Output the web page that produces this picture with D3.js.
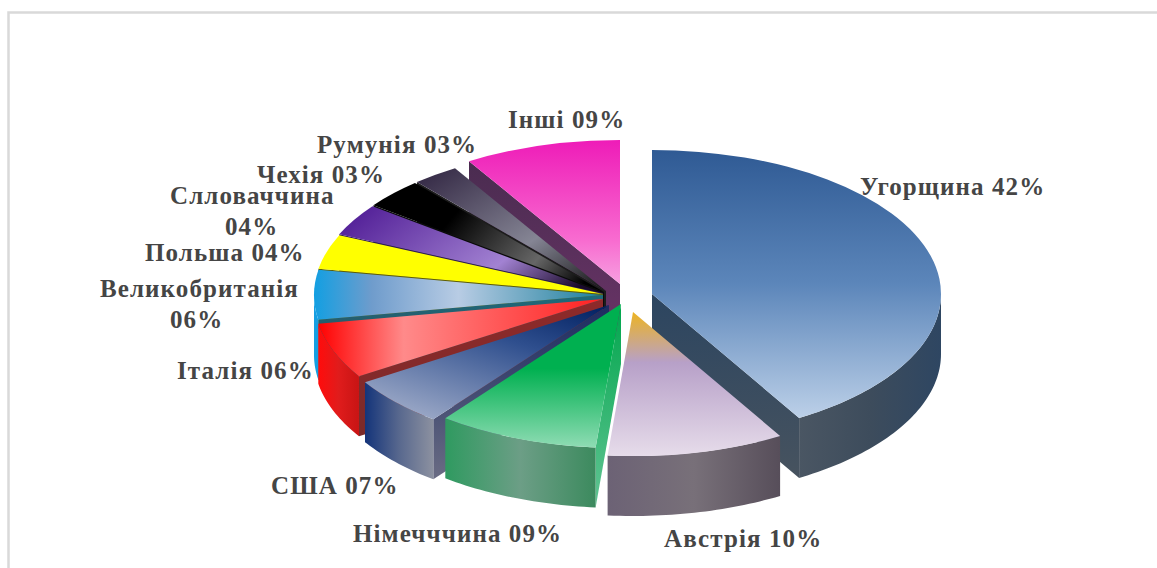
<!DOCTYPE html>
<html>
<head>
<meta charset="utf-8">
<script src="https://cdn.jsdelivr.net/npm/d3@7"></script>
<style>
  html, body { margin: 0; padding: 0; background: #fff; }
  svg { display: block; }
  text { font-family: "Liberation Serif", serif; font-weight: bold; font-size: 25px; letter-spacing: 1.1px; fill: #454545; }
</style>
</head>
<body>
<svg id="chart" width="1157" height="568"></svg>
<script>
// chart values
var countries = ["Угорщина", "Австрія", "Німечччина", "США", "Італія", "Великобританія", "Польша", "Слловаччина", "Чехія", "Румунія", "Інші"];
var percentLabels = ["42%", "10%", "09%", "07%", "06%", "06%", "04%", "04%", "03%", "03%", "09%"];
// slice sizes
var shares = [41.5, 9.9, 9, 5.6, 6.25, 5.55, 3.9, 3.6, 3.35, 2.6, 8.75];

// layout
var width = 1157, height = 568;
var cx = 608, cy = 297, rx = 289, ry = 144, depth = 60;
var explodeX = [44, 25, 13, 1, -5, -5, -5, -5, -4, -2, 12];
var explodeY = [-3, 15, 7, 8, 2, -2, -3, -4, -5, -6, -13];
var drawOrder = [10, 9, 8, 7, 6, 5, 4, 3, 2, 0, 1];
var labelX = [860, 664, 353, 271, 177, 100, 145, 170, 257, 317, 508];
var labelY = [195, 547, 542, 494, 379, 297, 261, 204, 183, 153, 128];
var labelBreak = [false, false, false, false, false, true, false, true, false, false, false];
var breakDx = [0, 0, 0, 0, 0, 70, 0, 55, 0, 0, 0];

// colours: [x1, y1, x2, y2] then stops
var topGrad = [
  [[0, 0, 0, 1], ["#2f5a94", 0], ["#5c86ba", .5], ["#bcd0e8", 1]],
  [[0, 0, 0, 1], ["#edb422", 0], ["#b7a0c8", .35], ["#e6dcea", 1]],
  [[.5, 0, .5, 1], ["#00b050", 0], ["#00b050", .45], ["#8fdcb4", 1]],
  [[1, 0, .3, 1], ["#001f60", 0], ["#2f4f8e", .4], ["#96a4c4", 1]],
  [[0, .5, 1, .5], ["#ff0000", 0], ["#ff8a8a", .3], ["#ff2020", 1]],
  [[0, .5, 1, .5], ["#129fe2", 0], ["#6f9ccc", .2], ["#b8cce4", .5], ["#1b7f9c", 1]],
  [[0, .5, 1, .5], ["#ffff00", 0], ["#ffff00", 1]],
  [[0, .3, 1, .7], ["#56249a", 0], ["#a282d2", .65], ["#1a0a2a", 1]],
  [[0, .3, 1, .7], ["#000000", 0], ["#000000", .3], ["#666666", .75], ["#000000", 1]],
  [[0, 0, 1, 1], ["#2f2340", 0], ["#858594", .6], ["#101010", 1]],
  [[0, 0, 0, 1], ["#ee1cb8", 0], ["#f86cd0", .7], ["#f6a0e0", 1]]
];
var wallGrad = [
  ["#4a5663", "#3d4c5c", "#2e4662"],
  ["#6c6275", "#787079", "#574e5a"],
  ["#2f9a60", "#6c9e86", "#3c8a5e"],
  ["#14347a", "#58688e", "#8c91a0"],
  ["#ff0c0c", "#e01c1c", "#c81414"],
  ["#169fe2", "#169fe2", "#169fe2"],
  ["#888800", "#888800", "#888800"],
  ["#3a1c6a", "#3a1c6a", "#3a1c6a"],
  ["#000000", "#000000", "#000000"],
  ["#222222", "#222222", "#222222"],
  ["#6b3468", "#6b3468", "#6b3468"]
];
var cutGrad = [
  ["#2c4560", "#47535f"],
  ["#6c6275", "#6c6275"],
  ["#00a64c", "#62c494"],
  ["#1c2c60", "#6a6c84"],
  ["#8e2a2a", "#7a2a2a"],
  ["#1e6a7a", "#36424f"],
  ["#5e5e00", "#5e5e00"],
  ["#2a1a50", "#2a1a50"],
  ["#0a0a0a", "#0a0a0a"],
  ["#1c1c1c", "#1c1c1c"],
  ["#4a2c50", "#6b3468"]
];

var svg = d3.select("#chart");
var defs = svg.append("defs");

// frame of the original picture
svg.append("path")
  .attr("d", d3.line()([[8.5, height], [8.5, 12.5], [width, 12.5]]))
  .attr("fill", "none")
  .attr("stroke", "#d9d9d9")
  .attr("stroke-width", 2.5);

var pie = d3.pie().sort(null).value(function(d) { return d; });
var slices = pie(shares);
var arc = d3.arc().innerRadius(0).outerRadius(rx);
var line = d3.line();

topGrad.forEach(function(g, i) {
  var grad = defs.append("linearGradient").attr("id", "top" + i)
    .attr("x1", g[0][0]).attr("y1", g[0][1]).attr("x2", g[0][2]).attr("y2", g[0][3]);
  g.slice(1).forEach(function(s) {
    grad.append("stop").attr("offset", s[1]).attr("stop-color", s[0]);
  });
});
wallGrad.forEach(function(g, i) {
  var grad = defs.append("linearGradient").attr("id", "wall" + i);
  g.forEach(function(c, j) {
    grad.append("stop").attr("offset", j / (g.length - 1)).attr("stop-color", c);
  });
});
cutGrad.forEach(function(g, i) {
  var grad = defs.append("linearGradient").attr("id", "cut" + i)
    .attr("x1", 0).attr("y1", 0).attr("x2", 0).attr("y2", 1);
  g.forEach(function(c, j) {
    grad.append("stop").attr("offset", j).attr("stop-color", c);
  });
});

function rim(a) {
  return [rx * Math.sin(a), -ry * Math.cos(a)];
}

drawOrder.forEach(function(i) {
  var s = slices[i];
  var g = svg.append("g")
    .attr("transform", "translate(" + (cx + explodeX[i]) + "," + (cy + explodeY[i]) + ")");

  // cut faces that look towards the viewer
  var cuts = [];
  if (Math.sin(s.startAngle) < -0.001) cuts.push(s.startAngle);
  if (Math.sin(s.endAngle) > 0.001) cuts.push(s.endAngle);
  cuts.forEach(function(a) {
    var p = rim(a);
    g.append("path")
      .attr("d", line([[0, 0], p, [p[0], p[1] + depth], [0, depth]]) + "Z")
      .attr("fill", "url(#cut" + i + ")");
  });

  // outer wall, only the near half of the ellipse
  var a0 = Math.max(s.startAngle, Math.PI / 2), a1 = Math.min(s.endAngle, Math.PI * 1.5);
  if (a1 > a0) {
    var angles = d3.range(a0, a1, 0.02).concat([a1]);
    var upper = angles.map(rim);
    var lower = upper.slice().reverse().map(function(p) { return [p[0], p[1] + depth]; });
    g.append("path")
      .attr("d", line(upper.concat(lower)) + "Z")
      .attr("fill", "url(#wall" + i + ")");
  }

  // top face
  g.append("path")
    .attr("d", arc(s))
    .attr("transform", "scale(1," + (ry / rx) + ")")
    .attr("fill", "url(#top" + i + ")");
});

countries.forEach(function(name, i) {
  var t = svg.append("text").attr("x", labelX[i]).attr("y", labelY[i]);
  if (labelBreak[i]) {
    t.append("tspan").text(name);
    t.append("tspan").attr("x", labelX[i] + breakDx[i]).attr("dy", 31).text(percentLabels[i]);
  } else {
    t.text(name + " " + percentLabels[i]);
  }
});
</script>
</body>
</html>
